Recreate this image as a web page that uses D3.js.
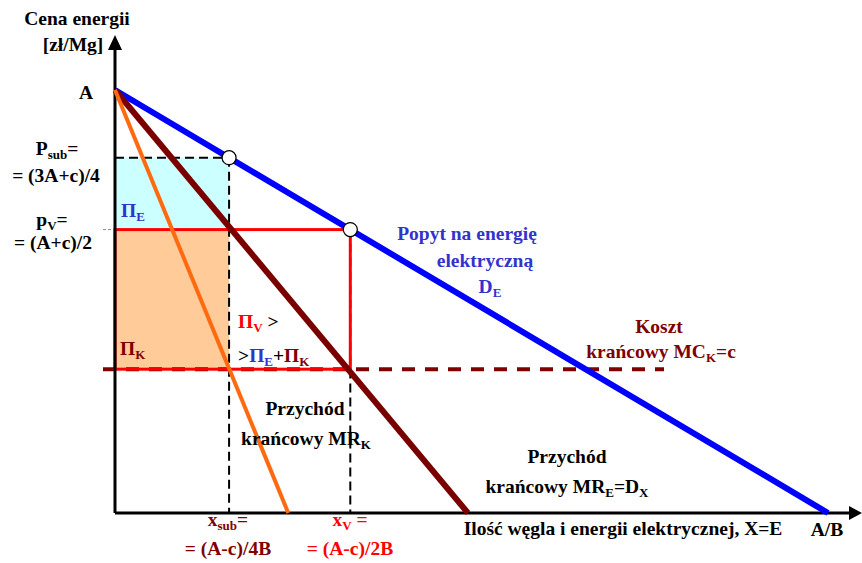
<!DOCTYPE html>
<html>
<head>
<meta charset="utf-8">
<script src="https://cdn.jsdelivr.net/npm/d3@7"></script>
<style>
  body { margin: 0; background: #fff; }
</style>
</head>
<body>
<div id="chart"></div>
<script>
// values (price and quantity in units where A = 100, A/B = 100)
var priceA = 100;
var curveNames = ["D_E", "MR_E", "MR_K"];
var curveEnds = [100, 49.5, 24.3];           // where each line meets the quantity axis
var levelNames = ["P_sub", "p_V", "c"];
var levelValues = [84, 67, 34];
var qtyNames = ["x_sub", "x_V"];
var qtyValues = [16, 33];

var width = 862, height = 563;
var margin = {top: 90, right: 34, bottom: 50, left: 115};

var svg = d3.select("#chart").append("svg")
    .attr("width", width)
    .attr("height", height);

var x = d3.scaleLinear().domain([0, 100]).range([margin.left, width - margin.right]);
var y = d3.scaleLinear().domain([0, 100]).range([height - margin.bottom, margin.top]);

var pSub = levelValues[0], pV = levelValues[1], cost = levelValues[2];
var xSub = qtyValues[0], xV = qtyValues[1];

// filled profit areas
svg.append("rect")
    .attr("x", x(0)).attr("y", y(pSub))
    .attr("width", x(xSub) - x(0)).attr("height", y(pV) - y(pSub))
    .attr("fill", "#ccffff");
svg.append("rect")
    .attr("x", x(0)).attr("y", y(pV))
    .attr("width", x(xSub) - x(0)).attr("height", y(cost) - y(pV))
    .attr("fill", "#ffcc99");

// dashed guides
svg.append("line")
    .attr("x1", x(0)).attr("x2", x(xSub))
    .attr("y1", y(pSub)).attr("y2", y(pSub))
    .attr("stroke", "#000").attr("stroke-width", 2).attr("stroke-dasharray", "9,5");
svg.append("line")
    .attr("x1", x(0) - 12).attr("x2", x(0) - 3)
    .attr("y1", y(pV)).attr("y2", y(pV))
    .attr("stroke", "#888").attr("stroke-width", 1).attr("stroke-dasharray", "3,2");
svg.append("line")
    .attr("x1", x(xSub)).attr("x2", x(xSub))
    .attr("y1", y(pSub)).attr("y2", y(0))
    .attr("stroke", "#000").attr("stroke-width", 2).attr("stroke-dasharray", "9,5");
svg.append("line")
    .attr("x1", x(xV)).attr("x2", x(xV))
    .attr("y1", y(pV)).attr("y2", y(0))
    .attr("stroke", "#000").attr("stroke-width", 2).attr("stroke-dasharray", "9,5");

// marginal cost line
svg.append("line")
    .attr("x1", x(0) - 12).attr("x2", x(77))
    .attr("y1", y(cost)).attr("y2", y(cost))
    .attr("stroke", "#800000").attr("stroke-width", 4).attr("stroke-dasharray", "13,10");

// vertically integrated profit rectangle
svg.append("rect")
    .attr("x", x(0)).attr("y", y(pV))
    .attr("width", x(xV) - x(0)).attr("height", y(cost) - y(pV))
    .attr("fill", "none").attr("stroke", "#ff0000").attr("stroke-width", 3);

// axes
var axisG = svg.append("g");
axisG.append("line")
    .attr("x1", x(0)).attr("x2", 850)
    .attr("y1", y(0)).attr("y2", y(0))
    .attr("stroke", "#000").attr("stroke-width", 3);
axisG.append("path")
    .attr("d", "M862," + y(0) + "L849," + (y(0) - 7) + "L849," + (y(0) + 7) + "Z")
    .attr("fill", "#000");
axisG.append("line")
    .attr("x1", x(0)).attr("x2", x(0))
    .attr("y1", y(0)).attr("y2", 48)
    .attr("stroke", "#000").attr("stroke-width", 3);
axisG.append("path")
    .attr("d", "M" + x(0) + ",35L" + (x(0) - 7) + ",50L" + (x(0) + 7) + ",50Z")
    .attr("fill", "#000");

// curves
var curveStyle = {
  "D_E": {color: "#0000ff", w: 6},
  "MR_E": {color: "#7a0000", w: 6},
  "MR_K": {color: "#ff6a10", w: 4}
};
var line = d3.line().x(function(d){ return x(d[0]); }).y(function(d){ return y(d[1]); });
svg.selectAll("path.curve")
    .data(curveNames)
    .enter()
    .append("path")
    .attr("class", "curve")
    .attr("d", function(d, i){ return line([[0, priceA], [curveEnds[i], 0]]); })
    .attr("fill", "none")
    .attr("stroke", function(d){ return curveStyle[d].color; })
    .attr("stroke-width", function(d){ return curveStyle[d].w; })
    .attr("stroke-linecap", "butt");

// equilibrium points on demand
var demandAt = function(q){ return priceA * (1 - q / curveEnds[0]); };
svg.selectAll("circle.pt")
    .data(qtyValues)
    .enter()
    .append("circle")
    .attr("class", "pt")
    .attr("cx", function(d){ return x(d); })
    .attr("cy", function(d){ return y(demandAt(d)); })
    .attr("r", 7)
    .attr("fill", "#fff")
    .attr("stroke", "#000")
    .attr("stroke-width", 1.2);

// text with subscripts: parts = [[text, color, isSub], ...]
function label(px, py, parts, anchor){
  var t = svg.append("text")
      .attr("x", px).attr("y", py)
      .attr("font-family", "Liberation Serif")
      .attr("font-weight", "bold")
      .attr("font-size", 19.5)
      .attr("text-anchor", anchor || "start");
  var down = false;
  parts.forEach(function(p){
    var s = t.append("tspan").text(p[0]).attr("fill", p[1] || "#000");
    if (p[2] && !down) { s.attr("dy", 4).attr("font-size", 13); down = true; }
    else if (p[2]) { s.attr("font-size", 13); }
    else if (down) { s.attr("dy", -4); down = false; }
  });
  return t;
}

var blue = "#3333cc", dred = "#800000", red = "#ff0000";

label(77, 25, [["Cena energii"]], "middle");
label(73, 51, [["[zł/Mg]"]], "middle");
label(86, 99, [["A"]], "middle");

label(57, 155, [["P"], ["sub", null, true], ["="]], "middle");
label(56, 182, [["= (3A+c)/4"]], "middle");
label(52, 226, [["p"], ["V", null, true], ["="]], "middle");
label(53, 249, [["= (A+c)/2"]], "middle");

label(121, 217, [["Π", blue], ["E", blue, true]]);
label(120, 355, [["Π", dred], ["K", dred, true]]);
label(238, 328, [["Π", red], ["V", red, true], [" >"]]);
label(238, 362, [[">"], ["Π", blue], ["E", blue, true], ["+"], ["Π", dred], ["K", dred, true]]);

label(467, 240, [["Popyt na energię", blue]], "middle");
label(485, 267, [["elektryczną", blue]], "middle");
label(490, 293, [["D", blue], ["E", blue, true]], "middle");

label(659, 333, [["Koszt", dred]], "middle");
label(661, 358, [["krańcowy MC", dred], ["K", dred, true], ["=c", dred]], "middle");

label(305, 415, [["Przychód"]], "middle");
label(306, 445, [["krańcowy MR"], ["K", null, true]], "middle");

label(567, 463, [["Przychód"]], "middle");
label(567, 493, [["krańcowy MR"], ["E", null, true], ["=D"], ["X", null, true]], "middle");

label(228, 526, [["x", dred], ["sub", dred, true], ["=", dred]], "middle");
label(228, 555, [["= (A-c)/4B", dred]], "middle");
label(350, 526, [["x", red], ["V", red, true], [" =", red]], "middle");
label(350, 555, [["= (A-c)/2B", red]], "middle");

label(623, 535, [["Ilość węgla i energii elektrycznej, X=E"]], "middle");
label(827, 536, [["A/B"]], "middle");
</script>
</body>
</html>
